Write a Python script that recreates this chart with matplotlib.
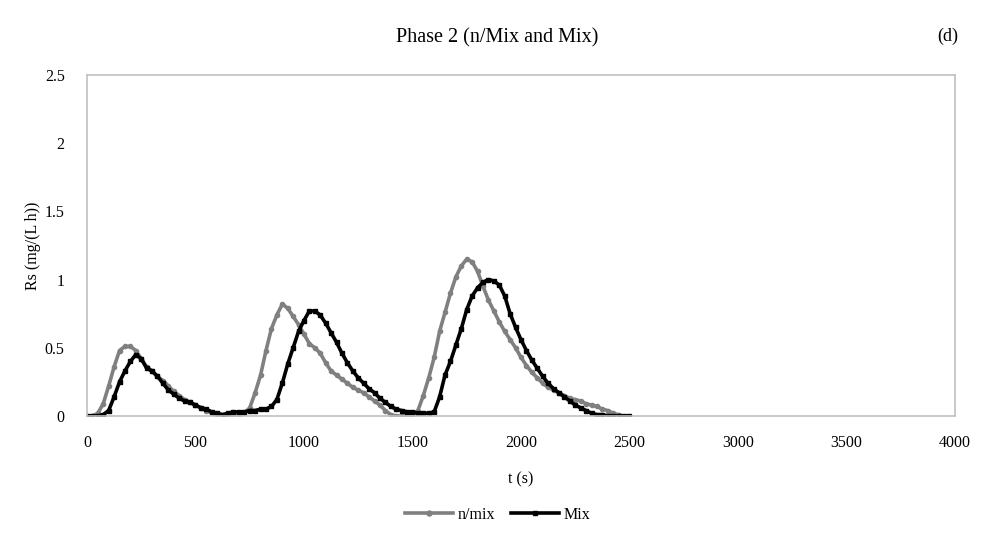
import numpy as np
import matplotlib
matplotlib.use("Agg")
import matplotlib.pyplot as plt

plt.rcParams['font.family'] = ['Liberation Serif', 'DejaVu Serif']

# time points (s) and Rs values (mg/(L h)) for both runs
t_nmix = [25, 50, 75, 100, 125, 150, 175, 200, 225, 250, 275, 300, 325, 350, 375, 400,
          425, 450, 475, 500, 525, 550, 575, 600, 625, 650, 675, 700, 725, 750, 775, 800,
          825, 850, 875, 900, 925, 950, 975, 1000, 1025, 1050, 1075, 1100, 1125, 1150,
          1175, 1200, 1225, 1250, 1275, 1300, 1325, 1350, 1375, 1400, 1425, 1450, 1475,
          1500, 1525, 1550, 1575, 1600, 1625, 1650, 1675, 1700, 1725, 1750, 1775, 1800,
          1825, 1850, 1875, 1900, 1925, 1950, 1975, 2000, 2025, 2050, 2075, 2100, 2125,
          2150, 2175, 2200, 2225, 2250, 2275, 2300, 2325, 2350, 2375, 2400, 2425, 2450]
rs_nmix = [0.00, 0.02, 0.09, 0.22, 0.36, 0.48, 0.51, 0.51, 0.48, 0.42, 0.36, 0.33, 0.29,
           0.26, 0.22, 0.18, 0.15, 0.12, 0.10, 0.08, 0.06, 0.04, 0.02, 0.01, 0.00, 0.00,
           0.01, 0.01, 0.02, 0.06, 0.17, 0.30, 0.48, 0.64, 0.74, 0.82, 0.79, 0.73, 0.67,
           0.60, 0.53, 0.50, 0.46, 0.39, 0.33, 0.30, 0.27, 0.24, 0.21, 0.19, 0.17, 0.14,
           0.11, 0.08, 0.04, 0.01, 0.00, 0.00, 0.00, 0.01, 0.04, 0.15, 0.28, 0.43, 0.62,
           0.76, 0.90, 1.02, 1.10, 1.15, 1.13, 1.06, 0.95, 0.85, 0.77, 0.69, 0.62, 0.56,
           0.50, 0.43, 0.37, 0.32, 0.28, 0.24, 0.21, 0.19, 0.17, 0.15, 0.13, 0.12, 0.11,
           0.09, 0.08, 0.07, 0.05, 0.04, 0.02, 0.01]

t_mix = [0, 25, 50, 75, 100, 125, 150, 175, 200, 225, 250, 275, 300, 325, 350, 375, 400,
         425, 450, 475, 500, 525, 550, 575, 600, 625, 650, 675, 700, 725, 750, 775, 800,
         825, 850, 875, 900, 925, 950, 975, 1000, 1025, 1050, 1075, 1100, 1125, 1150,
         1175, 1200, 1225, 1250, 1275, 1300, 1325, 1350, 1375, 1400, 1425, 1450, 1475,
         1500, 1525, 1550, 1575, 1600, 1625, 1650, 1675, 1700, 1725, 1750, 1775, 1800,
         1825, 1850, 1875, 1900, 1925, 1950, 1975, 2000, 2025, 2050, 2075, 2100, 2125,
         2150, 2175, 2200, 2225, 2250, 2275, 2300, 2325, 2350, 2375, 2400, 2425, 2450,
         2475, 2500]
rs_mix = [0.00, 0.00, 0.00, 0.01, 0.04, 0.14, 0.25, 0.33, 0.40, 0.45, 0.42, 0.35, 0.33,
          0.29, 0.24, 0.19, 0.16, 0.13, 0.11, 0.10, 0.08, 0.06, 0.05, 0.03, 0.02, 0.01,
          0.02, 0.03, 0.03, 0.03, 0.04, 0.04, 0.05, 0.05, 0.07, 0.12, 0.24, 0.38, 0.50,
          0.62, 0.70, 0.77, 0.77, 0.74, 0.68, 0.61, 0.54, 0.46, 0.39, 0.33, 0.28, 0.24,
          0.20, 0.17, 0.13, 0.10, 0.07, 0.05, 0.04, 0.03, 0.03, 0.02, 0.02, 0.02, 0.03,
          0.14, 0.30, 0.40, 0.52, 0.64, 0.78, 0.88, 0.94, 0.98, 1.00, 0.99, 0.96, 0.88,
          0.75, 0.65, 0.56, 0.48, 0.41, 0.35, 0.29, 0.24, 0.20, 0.17, 0.14, 0.11, 0.08,
          0.06, 0.04, 0.02, 0.01, 0.01, 0.00, 0.00, 0.00, 0.00, 0.00]

x_ticks = [0, 500, 1000, 1500, 2000, 2500, 3000, 3500, 4000]
y_ticks = [0, 0.5, 1, 1.5, 2, 2.5]
y_labels = ['0', '0.5', '1', '1.5', '2', '2.5']

fig = plt.figure(figsize=(9.95, 5.51), dpi=100)
ax = fig.add_axes([0.0874, 0.245, 0.8724, 0.619])

ax.plot(t_nmix, rs_nmix, color='#808080', lw=2.6, marker='o', ms=3, label='n/mix')
ax.plot(t_mix, rs_mix, color='black', lw=2.6, marker='s', ms=3, label='Mix')

ax.set_xlim(0, 4000)
ax.set_ylim(0, 2.5)
ax.set_xticks(x_ticks)
ax.set_yticks(y_ticks)
ax.set_yticklabels(y_labels)
ax.tick_params(length=0, labelsize=11.5, colors='black')
ax.tick_params(axis='x', pad=14)
ax.tick_params(axis='y', pad=16)
for s in ax.spines.values():
    s.set_color('#c0c0c0')
    s.set_linewidth(1.2)

ax.set_xlabel('t (s)', fontsize=11.5, labelpad=14)
ax.set_ylabel('Rs (mg/(L h))', fontsize=11.5, labelpad=3)

fig.text(0.5, 0.932, 'Phase 2 (n/Mix and Mix)', ha='center', va='center', fontsize=14.5)
fig.text(0.963, 0.934, '(d)', ha='right', va='center', fontsize=13)

ax.legend(loc='center', bbox_to_anchor=(0.473, -0.29), ncol=2, frameon=False,
          fontsize=11.5, handlelength=3, markerscale=1.2, columnspacing=1.0,
          handletextpad=0.3)

fig.savefig('out.png', dpi=100)
